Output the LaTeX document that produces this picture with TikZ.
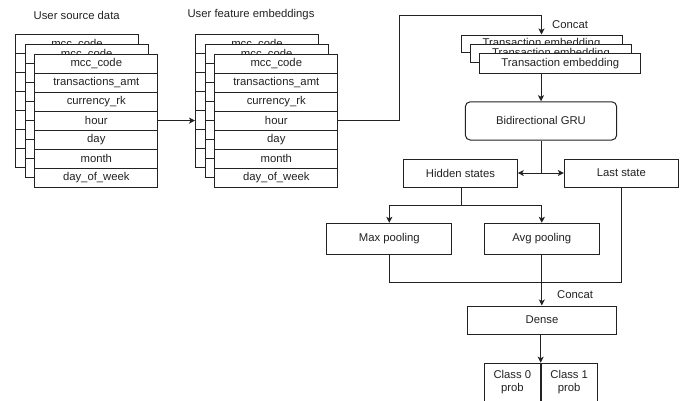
\documentclass[tikz,border=0pt]{standalone}
\usepackage{fontspec}
\setmainfont{Liberation Sans}
\usetikzlibrary{arrows.meta}
\definecolor{ink}{HTML}{222222}
\newcommand\mytable[3]{%
  \foreach \t [count=\i] in {mcc\_code,transactions\_amt,currency\_rk,hour,day,month,day\_of\_week}{%
    \node[rowbox] (#1-\i) at (#2,{#3+19*(\i-1)}) {\t};
  }%
}
\begin{document}
\begin{tikzpicture}[x=1pt,y=-1pt,line width=1pt,
  txt/.style={font=\fontsize{11.3}{13.3}\selectfont,text=ink,inner sep=0pt},
  box/.style={txt,draw=ink,fill=white},
  rowbox/.style={box,anchor=north west,minimum width=123pt,minimum height=19pt},
  tebox/.style={box,anchor=north west,minimum width=161pt},
  arr/.style={draw=ink,-{Stealth[length=6pt,width=6pt,inset=1.5pt]}},
  ln/.style={draw=ink}]
\useasboundingbox (0,0) rectangle (685,400);
\clip (0,0) rectangle (685,400);

% titles
\node[txt] (t1) at (76.7,15) {User source data};
\node[txt] (t2) at (251,15) {User feature embeddings};

% stack 1
\mytable{sa}{15}{34.3}
\mytable{sb}{24.7}{44.2}
\mytable{sc}{34.3}{53.6}
% stack 2
\mytable{ea}{195}{34.3}
\mytable{eb}{204.7}{44.2}
\mytable{ec}{214.3}{53.6}

% transaction embeddings
\node[tebox,minimum height=17pt] (tea) at (460.5,34.5) {Transaction embedding};
\node[tebox,minimum height=17.4pt] (teb) at (470,44.3) {Transaction embedding};
\node[tebox,minimum height=19.4pt] (tec) at (479.3,53.3) {Transaction embedding};

% GRU
\node[box,rounded corners=5pt,minimum width=151.4pt,minimum height=38.3pt] (gru) at (541,120.9) {Bidirectional GRU};

\node[box,minimum width=113.6pt,minimum height=28pt] (hid) at (460.5,173) {Hidden states};
\node[box,minimum width=114pt,minimum height=28pt] (last) at (621.3,173) {Last state};
\node[box,minimum width=125.3pt,minimum height=30.7pt] (maxp) at (389.3,238.7) {Max pooling};
\node[box,minimum width=115pt,minimum height=30.7pt] (avgp) at (541.8,238.7) {Avg pooling};
\node[box,minimum width=149.4pt,minimum height=28pt] (dense) at (542,320) {Dense};
\node[box,align=center,anchor=north east,minimum width=55.7pt,minimum height=38pt] (c0) at (540.7,362.7) {Class 0\\prob};
\node[box,align=center,anchor=north west,minimum width=56pt,minimum height=38pt] (c1) at (540.7,362.7) {Class 1\\prob};

% labels
\node[txt,anchor=west] (lc1) at (551.7,24.3) {Concat};
\node[txt,anchor=west] (lc2) at (556.7,295) {Concat};

% coordinates
\coordinate (k1) at (399,15.7);
\coordinate (j1) at (541,173);
\coordinate (j2) at (461,205.7);
\coordinate (j3) at (621.3,282.3);

% connectors
\draw[arr] (sc-4.east) -- (sc-4.east -| ea-1.west);
\draw[arr] (ec-4.east) -| (k1) -| (tea.north);
\draw[arr] (gru.north |- tec.south) -- (gru.north);
\draw[ln] (gru.south) -- (j1);
\draw[arr] (j1) -- (hid.east);
\draw[arr] (j1) -- (last.west);
\draw[ln] (hid.south -| j2) -- (j2);
\draw[arr] (j2) -| (maxp.north);
\draw[arr] (j2) -| (avgp.north);
\draw[ln] (maxp.south) |- (j3) -- (last.south);
\draw[arr] (avgp.south) -- (avgp.south |- dense.north);
\draw[arr] (dense.south -| c0.north east) -- (c0.north east);
\end{tikzpicture}
\end{document}
